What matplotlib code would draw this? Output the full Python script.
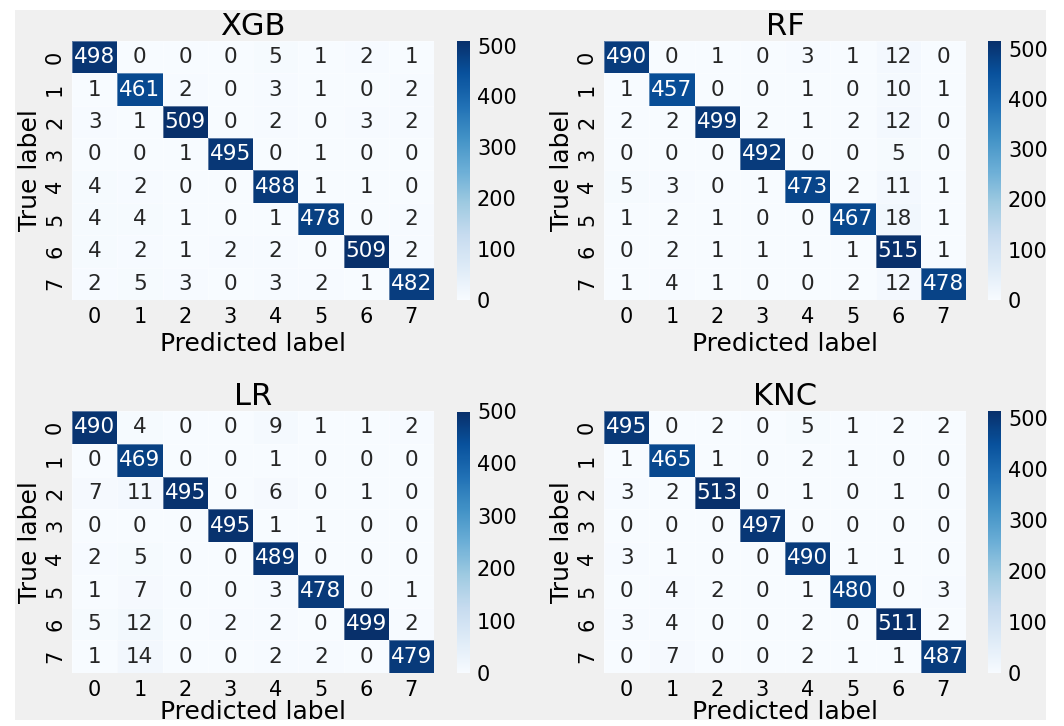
import numpy as np
import matplotlib
matplotlib.use("Agg")
import matplotlib.pyplot as plt
from matplotlib.patches import Rectangle
from matplotlib import colors as mcolors

plt.style.use("fivethirtyeight")
plt.rcParams["font.family"] = ["DejaVu Sans"]

class_labels = ["0", "1", "2", "3", "4", "5", "6", "7"]

cm_xgb = [
    [498, 0, 0, 0, 5, 1, 2, 1],
    [1, 461, 2, 0, 3, 1, 0, 2],
    [3, 1, 509, 0, 2, 0, 3, 2],
    [0, 0, 1, 495, 0, 1, 0, 0],
    [4, 2, 0, 0, 488, 1, 1, 0],
    [4, 4, 1, 0, 1, 478, 0, 2],
    [4, 2, 1, 2, 2, 0, 509, 2],
    [2, 5, 3, 0, 3, 2, 1, 482],
]

cm_rf = [
    [490, 0, 1, 0, 3, 1, 12, 0],
    [1, 457, 0, 0, 1, 0, 10, 1],
    [2, 2, 499, 2, 1, 2, 12, 0],
    [0, 0, 0, 492, 0, 0, 5, 0],
    [5, 3, 0, 1, 473, 2, 11, 1],
    [1, 2, 1, 0, 0, 467, 18, 1],
    [0, 2, 1, 1, 1, 1, 515, 1],
    [1, 4, 1, 0, 0, 2, 12, 478],
]

cm_lr = [
    [490, 4, 0, 0, 9, 1, 1, 2],
    [0, 469, 0, 0, 1, 0, 0, 0],
    [7, 11, 495, 0, 6, 0, 1, 0],
    [0, 0, 0, 495, 1, 1, 0, 0],
    [2, 5, 0, 0, 489, 0, 0, 0],
    [1, 7, 0, 0, 3, 478, 0, 1],
    [5, 12, 0, 2, 2, 0, 499, 2],
    [1, 14, 0, 0, 2, 2, 0, 479],
]

cm_knc = [
    [495, 0, 2, 0, 5, 1, 2, 2],
    [1, 465, 1, 0, 2, 1, 0, 0],
    [3, 2, 513, 0, 1, 0, 1, 0],
    [0, 0, 0, 497, 0, 0, 0, 0],
    [3, 1, 0, 0, 490, 1, 1, 0],
    [0, 4, 2, 0, 1, 480, 0, 3],
    [3, 4, 0, 0, 2, 0, 511, 2],
    [0, 7, 0, 0, 2, 1, 1, 487],
]

model_names = ["XGB", "RF", "LR", "KNC"]
matrices = [cm_xgb, cm_rf, cm_lr, cm_knc]

W, H = 1064, 726
fig = plt.figure(figsize=(W / 100, H / 100), dpi=100, facecolor="white")
fig.patches.append(Rectangle((15 / W, 1 - 720 / H), 1031 / W, 710 / H,
                             transform=fig.transFigure, facecolor="#f0f0f0",
                             edgecolor="none", zorder=-10))


def px_axes(left, top, right, bottom):
    return fig.add_axes([left / W, 1 - bottom / H, (right - left) / W, (bottom - top) / H])


# pixel boxes: (heatmap left, right), colorbar (left, right), row (top, bottom)
cols = [((72, 434), (457, 470)), ((604, 966), (988, 1001))]
rows = [(41, 300), (411, 673)]
xlabel_pads = [4, 0]

cmap = plt.get_cmap("Blues")

for idx, (name, cm) in enumerate(zip(model_names, matrices)):
    data = np.array(cm)
    (hl, hr), (cl, cr) = cols[idx % 2]
    top, bot = rows[idx // 2]
    ax = px_axes(hl, top, hr, bot)
    cax = px_axes(cl, top, cr, bot)

    vmin, vmax = data.min(), data.max()
    norm = mcolors.Normalize(vmin=vmin, vmax=vmax)
    mesh = ax.pcolormesh(data, cmap=cmap, norm=norm, linewidth=0.4,
                         edgecolor=(1, 1, 1, 0.35))
    ax.set_xlim(0, data.shape[1])
    ax.set_ylim(data.shape[0], 0)
    ax.grid(False)
    for s in ax.spines.values():
        s.set_visible(False)

    for i in range(data.shape[0]):
        for j in range(data.shape[1]):
            rgba = cmap(norm(data[i, j]))
            r, g, b = [c / 12.92 if c <= 0.03928 else ((c + 0.055) / 1.055) ** 2.4 for c in rgba[:3]]
            lum = 0.2126 * r + 0.7152 * g + 0.0722 * b
            color = "#262626" if lum > 0.408 else "white"
            ax.text(j + 0.5, i + 0.5, str(data[i, j]), ha="center", va="center",
                    fontsize=15.5, color=color)

    ax.set_xticks(np.arange(data.shape[1]) + 0.5)
    ax.set_xticklabels(class_labels, fontsize=15)
    ax.set_yticks(np.arange(data.shape[0]) + 0.5)
    ax.set_yticklabels(class_labels, fontsize=15, rotation=90, va="center")
    ax.tick_params(length=0, pad=5)
    ax.set_xlabel("Predicted label", fontsize=18, labelpad=xlabel_pads[idx // 2])
    ax.set_ylabel("True label", fontsize=18, labelpad=2)
    ax.set_title(name, fontsize=22, pad=4)

    cb = fig.colorbar(mesh, cax=cax)
    cb.outline.set_visible(False)
    cb.set_ticks([0, 100, 200, 300, 400, 500])
    cax.tick_params(length=0, labelsize=15, pad=5)
    cax.grid(False)

fig.savefig("out.png", dpi=100, facecolor="white")
